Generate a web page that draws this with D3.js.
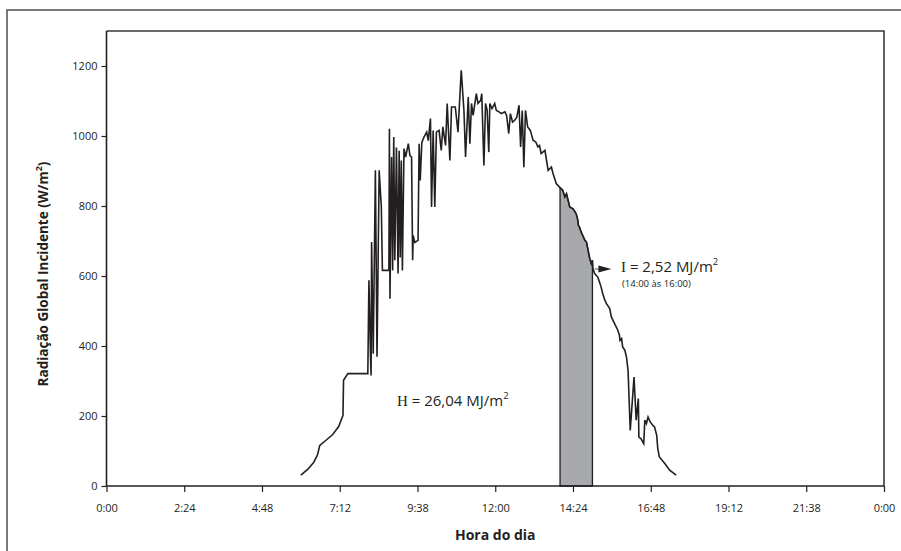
<!DOCTYPE html>
<html>
<head>
<meta charset="utf-8">
<script src="https://cdn.jsdelivr.net/npm/d3@7"></script>
<style>
  body { margin: 0; background: #fff; }
  svg { display: block; font-family: "Open Sans", "DejaVu Sans", sans-serif; }
</style>
</head>
<body>
<div id="chart"></div>
<script>
// hora do dia em minutos desde 0:00 e radiacao global (W/m2)
var minutos = [360, 373, 384, 391, 395, 406, 419, 430, 438, 439, 447, 484,
  486, 489, 490, 491, 494, 498, 501, 505, 509, 511, 523, 524, 525, 528, 530, 532,
  534, 537, 540, 542, 544, 546, 548, 551, 554, 559, 562, 565, 567, 568, 571, 577,
  579, 581, 584, 588, 593, 596, 600, 602, 605, 608, 611, 616, 620, 623, 628, 631,
  636, 639, 646, 651, 657, 662, 665, 670, 673, 676, 679, 685, 688, 693, 695, 699,
  702, 705, 708, 710, 714, 719, 722, 727, 731, 738, 741, 745, 748, 752, 756, 760,
  764, 767, 770, 773, 776, 780, 785, 790, 795, 799, 802, 805, 812, 815, 818, 824,
  827, 833, 839, 845, 849, 852, 858, 864, 870, 873, 874, 876, 879, 882, 886, 889,
  892, 895, 898, 900, 901, 904, 910, 913, 916, 919, 923, 926, 932, 935, 941, 947,
  950, 951, 954, 956, 960, 963, 966, 970, 977, 981, 985, 986, 990, 995, 997, 1000,
  1003, 1007, 1012, 1015, 1019, 1021, 1024, 1034, 1043, 1055];

var radiacao = [31, 48, 68, 90, 116, 130, 147, 170, 202, 302, 321, 321,
  588, 369, 316, 697, 378, 902, 369, 902, 797, 616, 616, 1021, 535, 940, 616, 997,
  645, 967, 607, 958, 653, 930, 616, 964, 940, 978, 944, 940, 645, 716, 696, 702,
  978, 873, 981, 997, 1011, 987, 1050, 797, 1016, 797, 1011, 1016, 959, 1026, 973, 1093,
  930, 1083, 1083, 1011, 1188, 1073, 940, 1111, 978, 1093, 1059, 1121, 1093, 1102, 1121, 916,
  1093, 1073, 954, 1093, 1078, 1093, 1073, 1069, 1064, 1069, 1059, 1007, 1064, 1040, 1045, 1054,
  1088, 969, 1073, 911, 1073, 1026, 1016, 988, 983, 969, 973, 950, 959, 930, 902, 911,
  893, 864, 854, 845, 826, 835, 797, 792, 778, 759, 745, 740, 726, 716, 702, 697,
  673, 650, 635, 645, 621, 607, 597, 583, 569, 550, 531, 521, 507, 483, 464, 445,
  431, 416, 421, 397, 388, 369, 330, 159, 311, 188, 250, 140, 135, 121, 188, 178,
  197, 183, 173, 169, 145, 107, 83, 64, 45, 31];

var xTicks = [0, 144, 288, 432, 576, 720, 864, 1008, 1152, 1296, 1440];
var xTickLabels = ["0:00", "2:24", "4:48", "7:12", "9:38", "12:00", "14:24", "16:48", "19:12", "21:38", "0:00"];
var yTicks = [0, 200, 400, 600, 800, 1000, 1200];

// intervalo sombreado (minutos)
var inicioSombra = 840;
var fimSombra = 900;

var W = 901, H = 551;
var ink = "#231f20";

var svg = d3.select("#chart").append("svg")
  .attr("width", W)
  .attr("height", H);

svg.append("rect").attr("width", W).attr("height", H).attr("fill", "#fff");

// moldura externa
svg.append("path")
  .attr("d", "M7,551 V10 H901")
  .attr("fill", "none")
  .attr("stroke", "#4d4d4d")
  .attr("stroke-width", 1.5);

var x = d3.scaleLinear().domain([0, 1440]).range([106.5, 884]);
var y = d3.scaleLinear().domain([0, 1300]).range([486, 31]);

var data = minutos.map(function (m, i) {
  return { m: m, v: radiacao[i] };
});

function valorEm(m) {
  for (var i = 0; i < data.length - 1; i++) {
    if (data[i].m <= m && data[i + 1].m >= m) {
      var t = (m - data[i].m) / (data[i + 1].m - data[i].m);
      return data[i].v + t * (data[i + 1].v - data[i].v);
    }
  }
  return 0;
}

// caixa do grafico (topo e direita)
svg.append("path")
  .attr("d", "M" + x(0) + "," + y(1300) + " H" + x(1440) + " V" + y(0))
  .attr("fill", "none")
  .attr("stroke", "#3a3a3a")
  .attr("stroke-width", 1.6);

// area sombreada
var sombra = [{ m: inicioSombra, v: valorEm(inicioSombra) }]
  .concat(data.filter(function (d) { return d.m > inicioSombra && d.m < fimSombra; }))
  .concat([{ m: fimSombra, v: valorEm(fimSombra) }]);

svg.append("path")
  .datum(sombra)
  .attr("d", d3.area()
    .x(function (d) { return x(d.m); })
    .y0(y(0))
    .y1(function (d) { return y(d.v); }))
  .attr("fill", "#a7a9ac")
  .attr("stroke", ink)
  .attr("stroke-width", 1.3);

// linha de radiacao
svg.append("path")
  .datum(data)
  .attr("d", d3.line()
    .x(function (d) { return x(d.m); })
    .y(function (d) { return y(d.v); }))
  .attr("fill", "none")
  .attr("stroke", ink)
  .attr("stroke-width", 1.6)
  .attr("stroke-linejoin", "miter");

// eixos
var xAxis = svg.append("g")
  .attr("transform", "translate(0," + y(0) + ")")
  .call(d3.axisBottom(x)
    .tickValues(xTicks)
    .tickSize(6)
    .tickPadding(12)
    .tickFormat(function (d, i) { return xTickLabels[i]; }));

var yAxis = svg.append("g")
  .attr("transform", "translate(" + x(0) + ",0)")
  .call(d3.axisLeft(y)
    .tickValues(yTicks)
    .tickSize(5)
    .tickPadding(4)
    .tickFormat(d3.format("d")));

[xAxis, yAxis].forEach(function (g) {
  g.select(".domain").attr("stroke", ink).attr("stroke-width", 1.6);
  g.selectAll(".tick line").attr("stroke", ink).attr("stroke-width", 1.2);
  g.selectAll(".tick text")
    .attr("fill", ink)
    .style("font-family", "'Open Sans', sans-serif")
    .style("font-size", "11px");
});
yAxis.select(".domain").attr("d", "M0," + y(0) + "V" + y(1300));
xAxis.select(".domain").attr("d", "M" + x(0) + ",0H" + x(1440));

// titulos dos eixos
svg.append("text")
  .attr("x", (x(0) + x(1440)) / 2)
  .attr("y", 540)
  .attr("text-anchor", "middle")
  .attr("fill", ink)
  .style("font-weight", "bold")
  .style("font-size", "14px")
  .text("Hora do dia");

var yTitulo = svg.append("text")
  .attr("transform", "translate(48," + 274 + ") rotate(-90)")
  .attr("text-anchor", "middle")
  .attr("fill", ink)
  .style("font-weight", "bold")
  .style("font-size", "13.5px");
yTitulo.append("tspan").text("Radiação Global Incidente (W/m");
yTitulo.append("tspan").attr("dy", -6).style("font-size", "9px").text("2");
yTitulo.append("tspan").attr("dy", 6).text(")");

// anotacoes
function rotulo(px, py, letra, resto) {
  var t = svg.append("text")
    .attr("x", px)
    .attr("y", py)
    .attr("fill", ink)
    .style("font-size", "15px");
  t.append("tspan").style("font-family", "'Liberation Serif', serif").text(letra);
  t.append("tspan").text(resto);
  t.append("tspan").attr("dy", -7).style("font-size", "9.5px").text("2");
  return t;
}

rotulo(397, 406, "H", " = 26,04 MJ/m");
rotulo(621, 272, "I", " = 2,52 MJ/m");

svg.append("text")
  .attr("x", 622)
  .attr("y", 287)
  .attr("fill", ink)
  .style("font-size", "9.5px")
  .text("(14:00 às 16:00)");

// seta
var ay = y(620);
svg.append("line")
  .attr("x1", x(904)).attr("y1", ay)
  .attr("x2", x(912)).attr("y2", ay)
  .attr("stroke", "#555")
  .attr("stroke-width", 1);
svg.append("path")
  .attr("d", "M" + x(911) + "," + (ay - 3.5) + " L" + (x(911) + 13) + "," + ay + " L" + x(911) + "," + (ay + 3.5) + "Z")
  .attr("fill", ink);
</script>
</body>
</html>
